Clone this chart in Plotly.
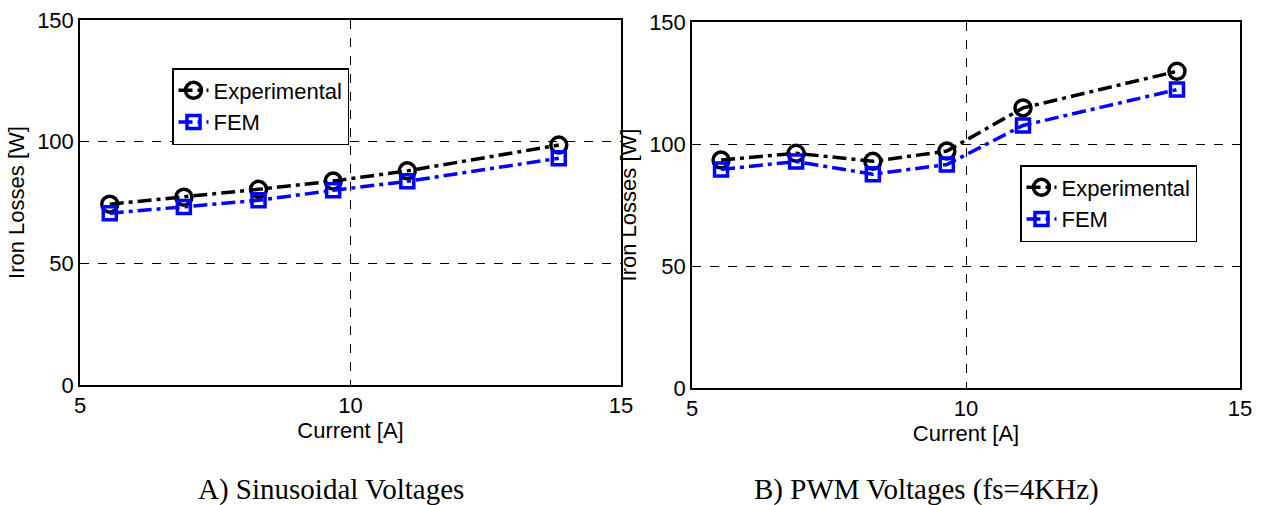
import plotly.graph_objects as go

# Data
current_a = [5.55, 6.92, 8.3, 9.68, 11.05, 13.85]
exp_a = [74.3, 77.2, 80.4, 83.8, 88.0, 98.6]
fem_a = [70.6, 73.1, 75.9, 80.0, 83.7, 93.2]

current_b = [5.53, 6.9, 8.3, 9.65, 11.04, 13.85]
exp_b = [93.4, 96.2, 92.9, 97.1, 114.8, 129.8]
fem_b = [89.6, 92.8, 87.6, 91.6, 107.6, 122.3]

x_ticks = [5, 10, 15]
y_ticks = [0, 50, 100, 150]
captions = ["A) Sinusoidal Voltages", "B) PWM Voltages (fs=4KHz)"]

W, H = 1262, 505
SANS = "Liberation Sans, Arial, sans-serif"
SERIF = "Liberation Serif, Times New Roman, serif"
DASH = "14px,5px,4px,5px"

fig = go.Figure()

def add_pair(x, e, f, xa, ya, leg):
    fig.add_trace(go.Scatter(
        x=x, y=e, name="Experimental", mode="lines+markers",
        line=dict(color="black", width=3.5, dash=DASH),
        marker=dict(symbol="circle-open", size=16, color="black",
                    line=dict(width=3.5, color="black")),
        xaxis=xa, yaxis=ya, legend=leg))
    fig.add_trace(go.Scatter(
        x=x, y=f, name="FEM", mode="lines+markers",
        line=dict(color="#0000ff", width=3.5, dash=DASH),
        marker=dict(symbol="square-open", size=13, color="#0000ff",
                    line=dict(width=3.5, color="#0000ff")),
        xaxis=xa, yaxis=ya, legend=leg))

add_pair(current_a, exp_a, fem_a, "x", "y", "legend")
add_pair(current_b, exp_b, fem_b, "x2", "y2", "legend2")

axis_common = dict(
    showline=True, linecolor="black", linewidth=1.5, mirror=True,
    showgrid=True, gridcolor="black", gridwidth=1, griddash="dash",
    zeroline=False, ticks="", automargin=False,
    tickfont=dict(family=SANS, size=22, color="black"),
)

xa = dict(axis_common, range=[5, 15], tickvals=x_ticks,
          title=dict(text="Current [A]", font=dict(family=SANS, size=22, color="black"), standoff=0))
ya = dict(axis_common, range=[0, 150], tickvals=y_ticks,
          title=dict(text="Iron Losses [W]", font=dict(family=SANS, size=22, color="black"), standoff=6))

leg_common = dict(xanchor="left", yanchor="top",
                  bgcolor="white", bordercolor="black", borderwidth=1.5,
                  font=dict(family=SANS, size=22, color="black"),
                  itemwidth=30, tracegroupgap=0)

fig.update_layout(
    width=W, height=H,
    margin=dict(l=0, r=0, t=0, b=0, autoexpand=False),
    paper_bgcolor="white", plot_bgcolor="white",
    xaxis=dict(xa, domain=[80 / W, 621 / W], anchor="y"),
    yaxis=dict(ya, domain=[1 - 385 / H, 1 - 20 / H], anchor="x"),
    xaxis2=dict(xa, domain=[692 / W, 1240 / W], anchor="y2"),
    yaxis2=dict(ya, domain=[1 - 388 / H, 1 - 22 / H], anchor="x2"),
    legend=dict(leg_common, x=172 / W, y=1 - 68 / H),
    legend2=dict(leg_common, x=1020 / W, y=1 - 165 / H),
    annotations=[
        dict(text=captions[0], x=331 / W, y=1 - 489 / H, xref="paper", yref="paper",
             xanchor="center", yanchor="middle", showarrow=False,
             font=dict(family=SERIF, size=29, color="black")),
        dict(text=captions[1], x=926 / W, y=1 - 489 / H, xref="paper", yref="paper",
             xanchor="center", yanchor="middle", showarrow=False,
             font=dict(family=SERIF, size=29, color="black")),
    ],
)

fig.write_html(
    "out.html",
    config={"displayModeBar": False},
    post_script="document.body.style.margin='0';document.body.style.overflow='hidden';",
)
